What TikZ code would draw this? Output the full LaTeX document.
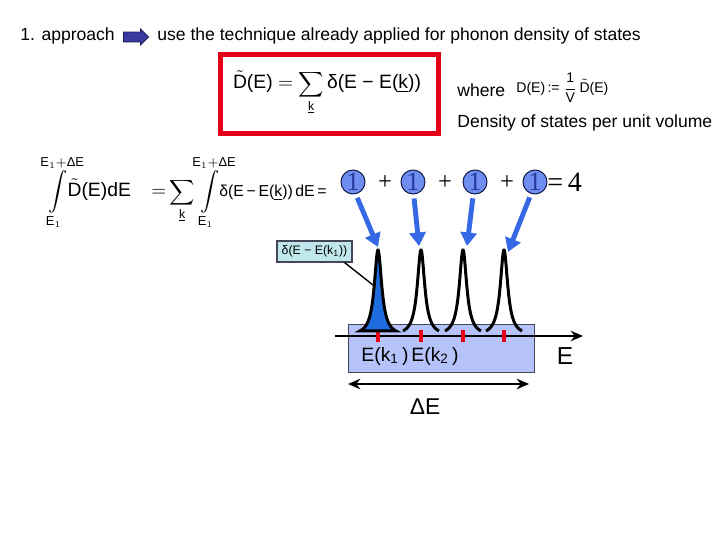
\documentclass[tikz,border=0pt]{standalone}
\usepackage{fontspec}
\usepackage{amsmath}
\usepackage{mathtools}
\setmainfont{Liberation Sans}
\newfontfamily\numfont{Liberation Serif}
\usetikzlibrary{arrows.meta, positioning, shapes.arrows, calc}
\definecolor{boxred}{RGB}{228,0,22}
\definecolor{navyarrow}{RGB}{58,58,160}
\definecolor{navydark}{RGB}{28,28,90}
\definecolor{circblue}{RGB}{112,142,240}
\definecolor{circdark}{RGB}{20,28,80}
\definecolor{circtext}{RGB}{40,58,160}
\definecolor{ptrblue}{RGB}{52,104,228}
\definecolor{bandblue}{RGB}{182,194,250}
\definecolor{bandedge}{RGB}{70,70,90}
\definecolor{peakblue}{RGB}{30,108,222}
\definecolor{calloutcyan}{RGB}{192,232,236}
\definecolor{tickred}{RGB}{232,0,22}
\newcommand{\intlim}{{\fontsize{10.5}{12}\selectfont$\displaystyle\int\limits_{\mathclap{\text{E}_1}}^{\mathclap{\text{E}_1+\text{ΔE}}}$}}
\newcommand{\sumk}{{\fontsize{10}{12}\selectfont$\displaystyle\sum_{\underline{\text{k}}}$}}
\tikzset{
  hdr/.style={font=\fontsize{10}{12}\selectfont, inner sep=0pt},
  eqn/.style={font=\fontsize{11}{13}\selectfont, inner sep=0pt},
  smalleqn/.style={font=\fontsize{8}{10}\selectfont, inner sep=0pt},
  onecirc/.style={circle, draw=circdark, fill=circblue, minimum size=0.48cm,
    inner sep=0pt, font=\numfont\fontsize{15}{15}\selectfont, text=circtext, line width=0.6pt},
  opsign/.style={font=\numfont\fontsize{14}{14}\selectfont, inner sep=0pt},
  pointer/.style={-{Triangle[length=0.27cm,width=0.32cm]}, line width=2.8pt, color=ptrblue},
  peakline/.style={line width=1.7pt, color=black},
  tickmark/.style={line width=2pt, color=tickred},
  lbl/.style={font=\fontsize{11}{13}\selectfont, inner sep=0pt},
  callout/.style={rectangle, draw=bandedge, fill=calloutcyan, minimum width=1.5cm,
    minimum height=0.42cm, inner sep=1pt, font=\fontsize{7}{8}\selectfont, line width=0.6pt}
}

\begin{document}
\begin{tikzpicture}[x=0.02cm, y=-0.02cm]
  \useasboundingbox (0,0) rectangle (720,540);

  % Header line
  \node[hdr, anchor=west] (appr) at (20,36) {1. approach};
  \node[single arrow, draw=navydark, fill=navyarrow, minimum height=0.5cm,
    inner xsep=0pt, inner ysep=0.09cm, single arrow head extend=0.06cm,
    line width=0.5pt] (harrow) at (133.5,37) {};
  \node[hdr, anchor=west] (tech) at (157,36) {use the technique already applied for phonon density of states};

  % Framed definition
  \draw[boxred, line width=2.8pt] (220.5,54.5) rectangle (438.5,133.5);
  \node[eqn, anchor=base] (dtilde) at (327,89)
    {$\tilde{\text{D}}$(E) $=$ \sumk\,δ(E − E(\underline{k}))};
  \node[hdr, anchor=west] (where) at (457,90) {where};
  \node[smalleqn, anchor=west] (dvol) at (516,88)
    {D(E)\,:= $\dfrac{\text{1}}{\text{V}}$\,$\tilde{\text{D}}$(E)};
  \node[hdr, anchor=west] (dens) at (457,123) {Density of states per unit volume};

  % Counting states in the interval
  \node[eqn, anchor=base west] (intl) at (48,197)
    {\intlim$\tilde{\text{D}}$(E)dE};
  \node[eqn, anchor=base west] (intr) at (151,197)
    {$=$\,\sumk\hspace{3pt}\intlim{\fontsize{9}{11}\selectfont δ(E\,−\,E(\underline{k}))\,dE\,=}};
  \node[onecirc] (c1) at (353,182) {1};
  \node[opsign] (s1) at (385,183) {+};
  \node[onecirc] (c2) at (413,182) {1};
  \node[opsign] (s2) at (445,183) {+};
  \node[onecirc] (c3) at (475,182) {1};
  \node[opsign] (s3) at (507,183) {+};
  \node[onecirc] (c4) at (535,182) {1};
  \node[opsign, font=\numfont\fontsize{16}{16}\selectfont, anchor=west] (tot) at (547,182) {=\,4};

  % Energy band
  \draw[fill=bandblue, draw=bandedge, line width=0.5pt] (348,324) rectangle (534,372);
  \coordinate (ax0) at (335,336);
  \coordinate (ax1) at (583,336);
  \draw[-{Stealth[length=7pt,width=6pt]}, line width=0.8pt] (ax0) -- (ax1);

  % Red markers at E(k)
  \foreach \px in {378,421,463,504}
    \draw[tickmark] (\px,330) -- (\px,342);

  % Peaks
  \filldraw[peakline, fill=peakblue] plot[domain=-18:18, samples=90]
    ({378+\x},{336-86/(1+(\x/4.5)^2)}) -- cycle;
  \foreach \px in {421,463,504}
    \draw[peakline] plot[domain=-18:18, samples=90] ({\px+\x},{336-86/(1+(\x/4.5)^2)});

  % Pointers from the ones to the peaks
  \coordinate (t1) at (378,247);
  \coordinate (t2) at (419,246);
  \coordinate (t3) at (467,246);
  \coordinate (t4) at (508,252);
  \draw[pointer] (c1.-70) ++(0,4) -- (t1);
  \draw[pointer] (c2.-85) ++(0,4) -- (t2);
  \draw[pointer] (c3.-100) ++(0,4) -- (t3);
  \draw[pointer] (c4.-115) ++(0,4) -- (t4);

  % Callout
  \node[callout] (cb) at (314.5,251.5) {δ(E − E(k\textsubscript{1}))};
  \coordinate (pk1) at (373,285);
  \draw[line width=0.8pt] ($(cb.south east)+(-8,0)$) -- (pk1);

  % Axis labels
  \node[lbl] (ek1) at (385,356) {E(k\textsubscript{1}\,)};
  \node[lbl] (ek2) at (435,356) {E(k\textsubscript{2}\,)};
  \node[lbl, font=\fontsize{14}{16}\selectfont] (elab) at (565,356) {E};

  % Width of the interval
  \coordinate (w0) at (348,384);
  \coordinate (w1) at (529,384);
  \draw[{Stealth[length=7pt,width=6pt]}-{Stealth[length=7pt,width=6pt]}, line width=1.4pt] (w0) -- (w1);
  \node[lbl, font=\fontsize{13}{15}\selectfont] (dE) at (425,407) {ΔE};
\end{tikzpicture}
\end{document}
